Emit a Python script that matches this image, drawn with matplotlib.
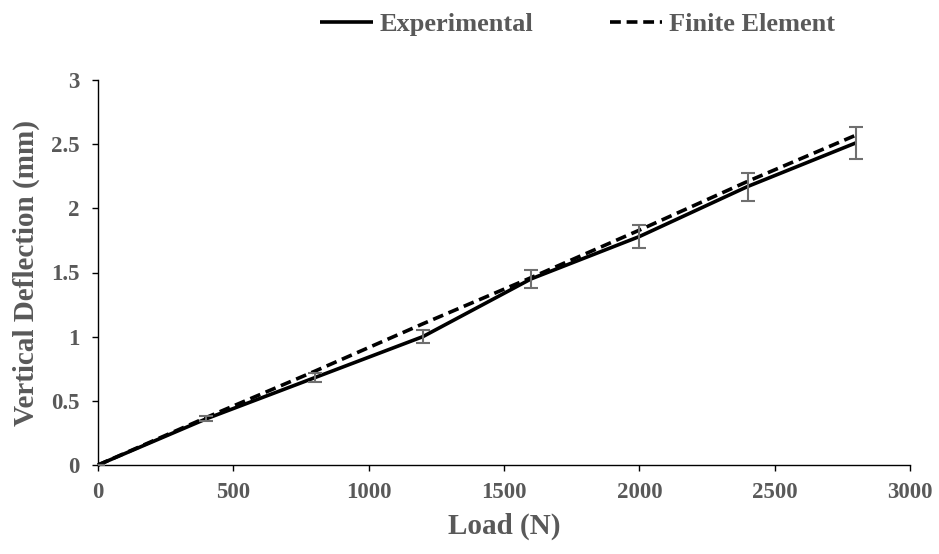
import numpy as np
import matplotlib as mpl
mpl.use('Agg')
import matplotlib.pyplot as plt

# data
load = [0, 400, 800, 1200, 1600, 2000, 2400, 2800]
experimental = [0, 0.36, 0.68, 1.00, 1.45, 1.78, 2.17, 2.51]
exp_err = [0, 0.018, 0.034, 0.05, 0.073, 0.089, 0.109, 0.126]
finite_element = [0, 0.37, 0.73, 1.10, 1.46, 1.83, 2.21, 2.57]

xticks = [0, 500, 1000, 1500, 2000, 2500, 3000]
yticks = [0, 0.5, 1, 1.5, 2, 2.5, 3]
ytick_labels = ['0', '0.5', '1', '1.5', '2', '2.5', '3']

grey = '#595959'
plt.rcParams['font.family'] = ['Liberation Serif', 'DejaVu Serif']
plt.rcParams['font.weight'] = 'bold'

fig = plt.figure(figsize=(9.39, 5.54), dpi=100)
ax = fig.add_axes((98/939, 89/554, 812/939, 385/554))

ax.errorbar(load, experimental, yerr=exp_err, fmt='none', ecolor='#6f6f6f',
            elinewidth=1.5, capsize=5, capthick=1.5, zorder=4)
l1, = ax.plot(load, experimental, color='black', lw=2.6, zorder=3,
              solid_capstyle='butt', label='Experimental', clip_on=False)
l2, = ax.plot(load, finite_element, color='black', lw=2.6, ls=(0, (3, 1.6)),
              zorder=3.5, label='Finite Element', clip_on=False)

ax.set_xlim(0, 3000)
ax.set_ylim(0, 3)
ax.set_xticks(xticks)
ax.set_yticks(yticks)
ax.set_yticklabels(ytick_labels)

for s in ['top', 'right']:
    ax.spines[s].set_visible(False)
for s in ['left', 'bottom']:
    ax.spines[s].set_linewidth(1.0)
    ax.spines[s].set_color('black')

ax.tick_params(axis='both', direction='out', length=4.5, width=1.0, color='black',
               labelsize=16.5, labelcolor=grey)
ax.tick_params(axis='x', pad=8)
ax.tick_params(axis='y', pad=9)
for lab in ax.get_xticklabels() + ax.get_yticklabels():
    lab.set_fontweight('bold')

ax.set_xlabel('Load (N)', fontsize=21, color=grey, fontweight='bold', labelpad=7)
ax.set_ylabel('Vertical Deflection (mm)', fontsize=21, color=grey, fontweight='bold', labelpad=8)

leg = fig.legend(handles=[l1, l2], loc='upper center', bbox_to_anchor=(0.615, 1.02),
                 ncol=2, frameon=False, fontsize=19, handlelength=2.0,
                 handletextpad=0.25, columnspacing=2.9)
for t in leg.get_texts():
    t.set_color(grey)
    t.set_fontweight('bold')

fig.savefig('out.png', dpi=100)
